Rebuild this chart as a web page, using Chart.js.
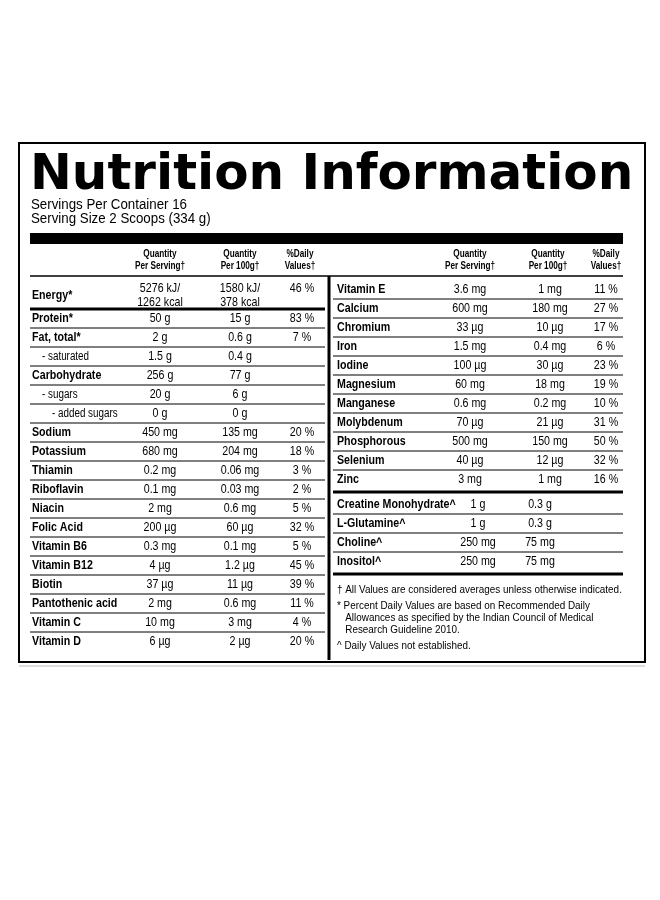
<!DOCTYPE html>
<html lang="en">
<head>
<meta charset="UTF-8">
<title>Nutrition Information</title>
<script src="https://cdn.jsdelivr.net/npm/chart.js"></script>
<style>
  body { margin: 0; background: #fff; }
  canvas { display: block; }
</style>
</head>
<body>
<canvas id="label" width="660" height="900"></canvas>
<script>
// Label data
const title = 'Nutrition Information';
const servingLines = ['Servings Per Container 16', 'Serving Size 2 Scoops (334 g)'];
const headers = [['Quantity', 'Per Serving\u2020'], ['Quantity', 'Per 100g\u2020'], ['%Daily', 'Values\u2020']];

const leftNames = ['Energy*', 'Protein*', 'Fat, total*', '- saturated', 'Carbohydrate', '- sugars', '- added sugars',
  'Sodium', 'Potassium', 'Thiamin', 'Riboflavin', 'Niacin', 'Folic Acid', 'Vitamin B6', 'Vitamin B12', 'Biotin',
  'Pantothenic acid', 'Vitamin C', 'Vitamin D'];
const leftIndent = [0, 0, 0, 1, 0, 1, 2, 0, 0, 0, 0, 0, 0, 0, 0, 0, 0, 0, 0];
const leftServing = ['5276 kJ/\n1262 kcal', '50 g', '2 g', '1.5 g', '256 g', '20 g', '0 g', '450 mg', '680 mg', '0.2 mg',
  '0.1 mg', '2 mg', '200 \u00b5g', '0.3 mg', '4 \u00b5g', '37 \u00b5g', '2 mg', '10 mg', '6 \u00b5g'];
const left100g = ['1580 kJ/\n378 kcal', '15 g', '0.6 g', '0.4 g', '77 g', '6 g', '0 g', '135 mg', '204 mg', '0.06 mg',
  '0.03 mg', '0.6 mg', '60 \u00b5g', '0.1 mg', '1.2 \u00b5g', '11 \u00b5g', '0.6 mg', '3 mg', '2 \u00b5g'];
const leftDV = ['46 %', '83 %', '7 %', '', '', '', '', '20 %', '18 %', '3 %', '2 %', '5 %', '32 %', '5 %', '45 %', '39 %',
  '11 %', '4 %', '20 %'];

const rightNames = ['Vitamin E', 'Calcium', 'Chromium', 'Iron', 'Iodine', 'Magnesium', 'Manganese', 'Molybdenum',
  'Phosphorous', 'Selenium', 'Zinc'];
const rightServing = ['3.6 mg', '600 mg', '33 \u00b5g', '1.5 mg', '100 \u00b5g', '60 mg', '0.6 mg', '70 \u00b5g', '500 mg', '40 \u00b5g', '3 mg'];
const right100g = ['1 mg', '180 mg', '10 \u00b5g', '0.4 mg', '30 \u00b5g', '18 mg', '0.2 mg', '21 \u00b5g', '150 mg', '12 \u00b5g', '1 mg'];
const rightDV = ['11 %', '27 %', '17 %', '6 %', '23 %', '19 %', '10 %', '31 %', '50 %', '32 %', '16 %'];

const extraNames = ['Creatine Monohydrate^', 'L-Glutamine^', 'Choline^', 'Inositol^'];
const extraServing = ['1 g', '1 g', '250 mg', '250 mg'];
const extra100g = ['0.3 g', '0.3 g', '75 mg', '75 mg'];

const footnotes = [
  ['\u2020 All Values are considered averages unless otherwise indicated.'],
  ['* Percent Daily Values are based on Recommended Daily', '   Allowances as specified by the Indian Council of Medical', '   Research Guideline 2010.'],
  ['^ Daily Values not established.']
];

const SANS = '"Liberation Sans", Arial, sans-serif';

const labelPlugin = {
  id: 'labelPlugin',
  afterDraw(chart) {
    const c = chart.ctx, X = v => chart.scales.x.getPixelForValue(v), Y = v => chart.scales.y.getPixelForValue(v);
    const line = (x1, y1, x2, y2, w) => { c.beginPath(); c.lineWidth = w; c.moveTo(X(x1), Y(y1)); c.lineTo(X(x2), Y(y2)); c.stroke(); };
    // condensed text: squeeze horizontally
    const text = (s, x, y, font, align, sx) => {
      c.save(); c.translate(X(x), Y(y)); c.scale(sx || 0.82, 1);
      c.font = font; c.textAlign = align || 'left'; c.fillText(s, 0, 0); c.restore();
    };
    c.save();
    c.fillStyle = '#000'; c.strokeStyle = '#000'; c.textBaseline = 'middle';

    c.lineWidth = 2; c.strokeRect(X(19), Y(143), X(645) - X(19), Y(662) - Y(143));
    c.strokeStyle = '#bbb'; line(19, 666, 645, 666, 1); c.strokeStyle = '#000';

    text(title, 30, 176, 'bold 50px "DejaVu Sans", sans-serif', 'left', 1.0);
    servingLines.forEach((s, i) => text(s, 31, 205 + i * 14, '14px ' + SANS, 'left', 0.95));
    c.fillRect(X(30), Y(233), X(623) - X(30), Y(244) - Y(233));

    const hFont = 'bold 10px ' + SANS;
    [[160, 240, 300], [470, 548, 606]].forEach(cols => headers.forEach((h, i) => {
      text(h[0], cols[i], 254, hFont, 'center'); text(h[1], cols[i], 266, hFont, 'center');
    }));
    line(30, 276, 623, 276, 1.5);
    line(329, 276, 329, 660, 3);

    const lblFont = 'bold 13px ' + SANS, valFont = '13px ' + SANS, smallFont = '12px ' + SANS;
    let y = 280;
    leftNames.forEach((n, i) => {
      const h = i === 0 ? 29 : 19;
      const cy = y + h / 2 + (i === 0 ? 1 : 0);
      if (leftIndent[i]) text(n, 32 + leftIndent[i] * 10, cy, smallFont);
      else text(n, 32, cy, lblFont);
      [[leftServing, 160], [left100g, 240]].forEach(([arr, x]) => {
        const parts = arr[i].split('\n');
        parts.forEach((p, k) => text(p, x, cy + (k - (parts.length - 1) / 2) * 14, valFont, 'center'));
      });
      text(leftDV[i], 302, i === 0 ? cy - 7 : cy, valFont, 'center');
      y += h;
      if (i < leftNames.length - 1) line(30, y, 325, y, i === 0 ? 3 : 1);
    });

    y = 280;
    rightNames.forEach((n, i) => {
      const cy = y + 9.5;
      text(n, 337, cy, lblFont);
      text(rightServing[i], 470, cy, valFont, 'center');
      text(right100g[i], 550, cy, valFont, 'center');
      text(rightDV[i], 606, cy, valFont, 'center');
      y += 19;
      if (i < rightNames.length - 1) line(333, y, 623, y, 1);
    });
    y += 3; line(333, y, 623, y, 3); y += 3;
    extraNames.forEach((n, i) => {
      const cy = y + 9.5;
      text(n, 337, cy, lblFont);
      text(extraServing[i], 478, cy, valFont, 'center');
      text(extra100g[i], 540, cy, valFont, 'center');
      y += 19;
      if (i < extraNames.length - 1) line(333, y, 623, y, 1);
    });
    y += 3; line(333, y, 623, y, 3);

    y += 16;
    footnotes.forEach(block => {
      block.forEach(s => { text(s, 337, y, '11px ' + SANS, 'left', 0.9); y += 12; });
      y += 4;
    });
    c.restore();
  }
};

new Chart(document.getElementById('label'), {
  type: 'scatter',
  data: { datasets: [{ data: [] }] },
  options: {
    responsive: false,
    animation: false,
    layout: { padding: 0 },
    plugins: { legend: { display: false }, tooltip: { enabled: false } },
    scales: {
      x: { type: 'linear', min: 0, max: 660, display: false },
      y: { type: 'linear', min: 0, max: 900, reverse: true, display: false }
    }
  },
  plugins: [labelPlugin]
});
</script>
</body>
</html>
